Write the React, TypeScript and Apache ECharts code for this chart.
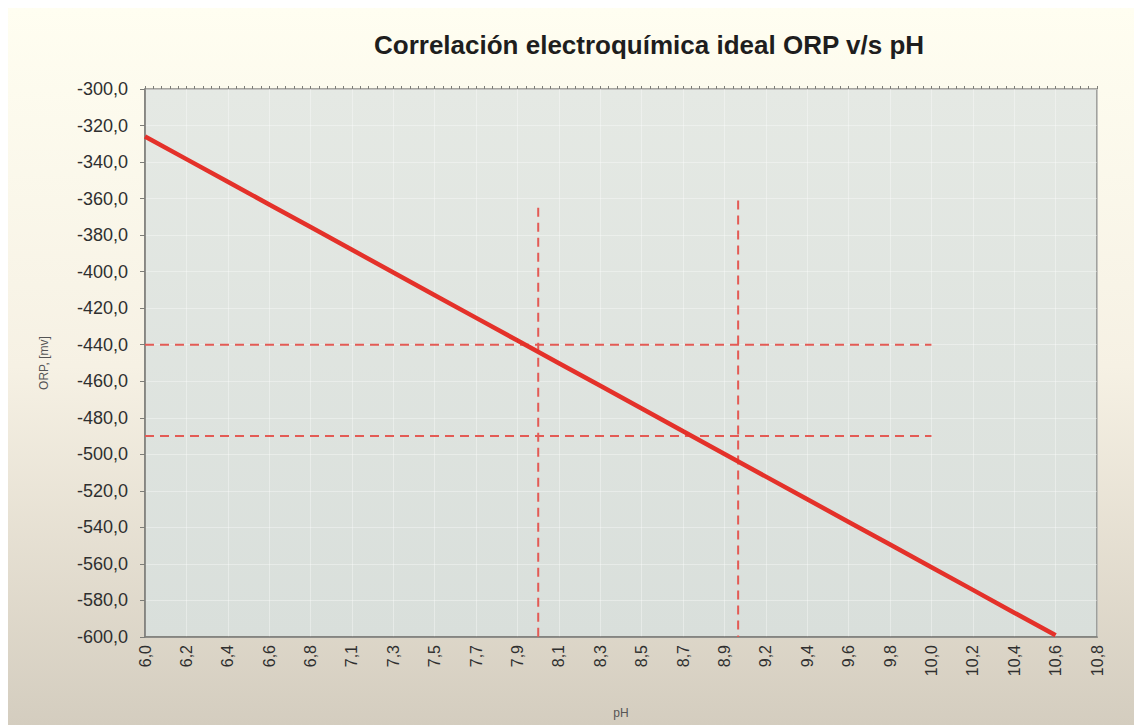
import React, { useEffect, useRef } from "react";
import * as echarts from "echarts";

const titleText = "Correlación electroquímica ideal ORP v/s pH";
const phLabels = ["6,0","6,2","6,4","6,6","6,8","7,1","7,3","7,5","7,7","7,9","8,1","8,3","8,5","8,7","8,9","9,2","9,4","9,6","9,8","10,0","10,2","10,4","10,6","10,8"];
const orpValues: (number | null)[] = [-326, -338.4, -350.8, -363.2, -375.6, -388.0, -400.5, -412.9, -425.3, -437.7, -450.1, -462.5, -474.9, -487.4, -499.8, -512.2, -524.6, -537.0, -549.4, -561.8, -574.2, -586.7, -599.0, null];
// reference guides: [category position, ORP]
const hLine1 = [[0, -440], [19, -440]];
const hLine2 = [[0, -490], [19, -490]];
const vLine1 = [[9.5, -365], [9.5, -600]];
const vLine2 = [[14.33, -361], [14.33, -600]];

export default function App() {
  const ref = useRef<HTMLDivElement>(null);
  useEffect(() => {
    if (!ref.current) return;
    const chart = echarts.init(ref.current, null, { renderer: "svg" });
    const dashed = (data: number[][]) => ({
      type: "line",
      xAxisIndex: 1,
      data,
      symbol: "none",
      lineStyle: { color: "#e35b55", width: 2, type: [9, 6] },
      z: 3,
    });
    chart.setOption({
      animation: false,
      backgroundColor: {
        type: "linear", x: 0, y: 0, x2: 0, y2: 1,
        colorStops: [
          { offset: 0, color: "#fffef1" },
          { offset: 0.5, color: "#f6f1e4" },
          { offset: 1, color: "#d4cdbf" },
        ],
      },
      title: {
        text: titleText,
        left: 361,
        top: 19,
        textStyle: { fontFamily: "Liberation Sans", fontSize: 26, fontWeight: "bold", color: "#1e1e1e" },
      },
      grid: {
        left: 137, right: 45, top: 81, bottom: 88,
        show: true,
        backgroundColor: {
          type: "linear", x: 0, y: 0, x2: 0, y2: 1,
          colorStops: [
            { offset: 0, color: "#e5e9e4" },
            { offset: 1, color: "#d9dfdb" },
          ],
        },
        borderColor: "#8a8a86",
        borderWidth: 1.5,
      },
      xAxis: [
        {
          type: "category",
          data: phLabels,
          boundaryGap: false,
          name: "pH",
          nameLocation: "middle",
          nameGap: 70,
          nameTextStyle: { fontFamily: "Liberation Sans", fontSize: 12, color: "#555" },
          axisLine: { lineStyle: { color: "#7d7d78", width: 1.5 } },
          axisTick: { show: false },
          axisLabel: {
            rotate: 90,
            interval: 0,
            margin: 8,
            fontFamily: "Liberation Sans",
            fontSize: 16,
            color: "#2f2f2f",
          },
          splitLine: { show: true, lineStyle: { color: "rgba(255,255,255,0.35)", width: 1 } },
        },
        {
          type: "value",
          position: "top",
          min: 0,
          max: 23,
          interval: 1,
          axisLine: { show: false },
          axisTick: { show: true, length: 3, lineStyle: { color: "#7d7d78" } },
          minorTick: { show: true, splitNumber: 5, length: 3, lineStyle: { color: "#7d7d78" } },
          axisLabel: { show: false },
          splitLine: { show: false },
        },
      ],
      yAxis: {
        type: "value",
        min: -600,
        max: -300,
        interval: 20,
        name: "ORP, [mv]",
        nameLocation: "middle",
        nameGap: 95,
        nameTextStyle: { fontFamily: "Liberation Sans", fontSize: 12, color: "#555" },
        axisLine: { show: true, lineStyle: { color: "#7d7d78", width: 1.5 } },
        axisTick: { show: true, length: 5, lineStyle: { color: "#7d7d78" } },
        axisLabel: {
          margin: 17,
          fontFamily: "Liberation Sans",
          fontSize: 18,
          color: "#2f2f2f",
          formatter: (v: number) => v.toFixed(1).replace(".", ","),
        },
        splitLine: { show: true, lineStyle: { color: "rgba(255,255,255,0.35)", width: 1 } },
      },
      series: [
        dashed(hLine1),
        dashed(hLine2),
        dashed(vLine1),
        dashed(vLine2),
        {
          type: "line",
          data: orpValues,
          symbol: "none",
          lineStyle: { color: "#e4312a", width: 4.5 },
          z: 5,
        },
      ],
    });
    return () => chart.dispose();
  }, []);
  return <div ref={ref} style={{ width: 1134, height: 717 }} />;
}
